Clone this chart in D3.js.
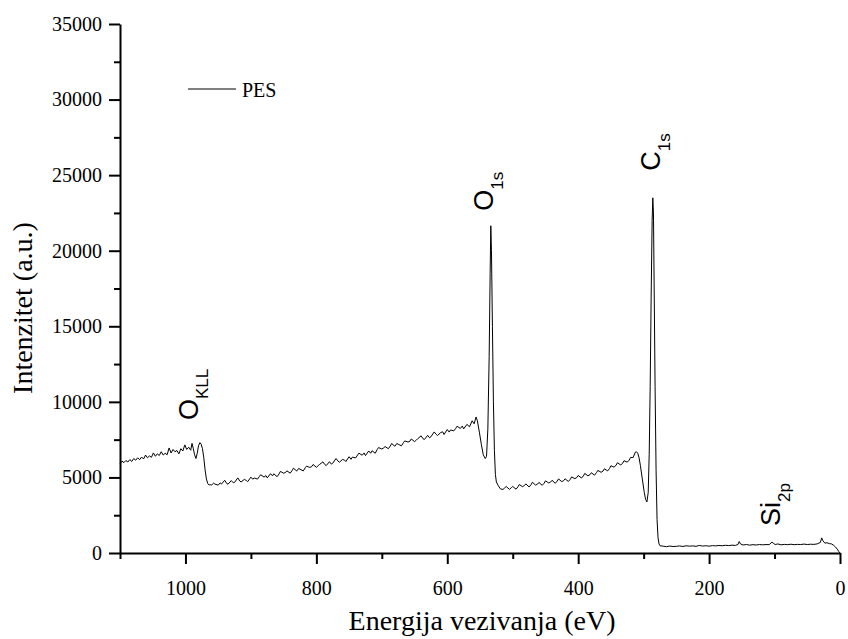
<!DOCTYPE html>
<html>
<head>
  <meta charset="UTF-8">
  <title>PES spectar</title>
  <style type="text/css">
    body { margin: 0; background: #fff; }
    .axis path, .axis line { stroke: #000; stroke-width: 2px; }
    .spectrum { fill: none; stroke: #000; stroke-width: 1px; }
    .serif { font-family: "Times New Roman", Times, "Liberation Serif", "DejaVu Serif", serif; fill: #000; }
    .peak { font-family: "Liberation Sans", Arial, sans-serif; font-size: 27px; fill: #000; }
  </style>
</head>
<body>
  <div class="svg-zone"></div>
  <script src="https://cdn.jsdelivr.net/npm/d3@7"></script>
  <script type="text/javascript">
    // binding energy (eV), intensity (a.u.)
    var highEnergy = [
      [1100, 5900], [1097, 6080], [1094, 5980], [1091, 6120], [1088, 6020], [1085, 6180],
      [1082, 6060], [1079, 6250], [1076, 6140], [1073, 6300], [1070, 6170], [1067, 6350],
      [1064, 6220], [1061, 6480], [1058, 6300], [1055, 6420], [1052, 6330], [1049, 6620],
      [1046, 6400], [1043, 6560], [1040, 6450], [1037, 6700], [1034, 6480], [1031, 6600],
      [1028, 6500], [1025, 6950], [1022, 6620], [1019, 6850], [1016, 6700], [1013, 6780],
      [1010, 6560], [1007, 6900], [1004, 6750], [1001, 7150], [998, 6850], [995, 7000],
      [992, 6800], [990, 7250], [988, 6900], [986, 6500], [984, 6250], [982, 6600],
      [980, 7100], [978, 7300], [976, 7200], [974, 6900], [972, 6300], [970, 5500],
      [968, 4900], [966, 4600], [964, 4500], [962, 4520]
    ];
    var midEnergy = [
      [960, 4500], [957, 4620], [955, 4560], [950, 4490], [947, 4640], [945, 4560], [940, 4810], [937, 4600], [935, 4550],
      [930, 4790], [927, 4650], [925, 4670], [920, 4970], [917, 4760], [915, 4700], [910, 4870], [907, 4800], [905, 4720],
      [900, 5020], [897, 4880], [895, 4970], [890, 4890], [887, 5060], [885, 5180], [880, 5020], [877, 5120], [875, 4970],
      [870, 5250], [867, 5100], [865, 5240], [860, 5050], [857, 5230], [855, 5400], [850, 5280], [847, 5330], [845, 5435],
      [840, 5280], [837, 5460], [835, 5615], [830, 5420], [827, 5600], [825, 5545], [820, 5430], [817, 5640], [815, 5745],
      [810, 5660], [807, 5720], [805, 5855], [800, 5670], [797, 5790], [795, 5860], [790, 6030], [787, 5850], [785, 5780],
      [780, 6040], [777, 5880], [775, 5940], [770, 6250], [767, 6090], [765, 6000], [760, 6190], [757, 6150], [755, 6050],
      [750, 6370], [747, 6200], [745, 6345], [740, 6290], [737, 6480], [735, 6605], [730, 6470], [727, 6620], [725, 6445],
      [720, 6750], [717, 6600], [715, 6765], [710, 6600], [707, 6850], [705, 6975], [700, 6880], [697, 6960], [695, 7045],
      [690, 6900], [687, 7080], [685, 7245], [680, 7060], [677, 7250], [675, 7195], [670, 7090], [667, 7300], [665, 7415],
      [660, 7340], [657, 7400], [655, 7545], [650, 7370], [647, 7480], [645, 7570], [640, 7750], [637, 7560], [635, 7510],
      [630, 7780], [627, 7620], [625, 7690], [620, 8010], [617, 7850], [615, 7770], [610, 7970], [607, 8020], [605, 7840],
      [600, 8170], [597, 8000], [595, 8140], [590, 8080], [587, 8250], [585, 8390], [580, 8240], [577, 8400], [575, 8210],
      [570, 8510], [566, 8350], [562, 8750], [559, 8550], [556, 9000], [554, 8750]
    ];
    var o1sPeak = [
      [551, 8000], [548, 7200], [545, 6500], [542, 6250], [540, 6400], [538, 8200],
      [536, 13000], [534.5, 18500], [533.5, 21650], [532.5, 20000], [531, 15000],
      [529.5, 10000], [528, 6800], [526.5, 5200], [525, 4700], [522, 4450], [519, 4250]
    ];
    var lowEnergy = [
      [515, 4200], [512, 4320], [510, 4400], [505, 4210], [502, 4330], [500, 4400], [495, 4220], [492, 4380], [490, 4530],
      [485, 4390], [482, 4470], [480, 4570], [475, 4370], [472, 4520], [470, 4680], [465, 4490], [462, 4560], [460, 4670],
      [455, 4480], [452, 4620], [450, 4775], [445, 4630], [442, 4700], [440, 4810], [435, 4610], [432, 4760], [430, 4900],
      [425, 4720], [422, 4800], [420, 4910], [415, 4730], [412, 4880], [410, 5030], [405, 4920], [402, 5000], [400, 5130],
      [395, 4960], [392, 5100], [390, 5265], [385, 5110], [382, 5180], [380, 5310], [375, 5150], [372, 5320], [370, 5465],
      [365, 5340], [362, 5420], [360, 5575], [355, 5430], [352, 5600], [350, 5770], [345, 5680], [342, 5820], [340, 5975],
      [335, 5820], [332, 5950], [330, 6105], [325, 6010], [322, 6150], [320, 6320], [316, 6320], [313, 6650]
    ];
    var c1sPeak = [
      [311, 6700], [309, 6600], [307, 6300], [305, 5800], [302, 4900], [299, 4000],
      [297, 3550], [295, 3380], [293, 4000], [291.5, 6500], [290, 11000], [288.5, 17000],
      [287, 22000], [286, 23500], [285, 22500], [284, 18000], [282.5, 11000], [281, 5500],
      [279.5, 2200], [278, 1000], [276.5, 600], [275, 480]
    ];
    var tailEnergy = [
      [270, 450], [265, 420], [260, 460], [255, 430], [250, 440], [245, 470], [240, 430],
      [235, 480], [230, 450], [225, 470], [220, 440], [215, 500], [210, 460], [205, 480],
      [200, 450], [195, 490], [190, 470], [185, 500], [180, 480], [175, 510], [170, 490],
      [165, 520], [160, 500], [156, 560], [154, 760], [152, 600], [148, 530], [143, 560],
      [138, 520], [133, 550], [128, 530], [123, 560], [118, 540], [113, 560], [108, 550],
      [104, 720], [102, 650], [99, 560], [95, 600], [90, 540], [85, 570], [80, 550],
      [75, 580], [70, 550], [65, 570], [60, 560], [55, 590], [50, 560], [45, 580],
      [40, 570], [35, 600], [30, 700], [28, 1000], [26, 800], [23, 650], [20, 680],
      [16, 620], [13, 600], [10, 520], [7, 400], [4, 250], [2, 100], [0, 0]
    ];
    var spectrum = [].concat(highEnergy, midEnergy, o1sPeak, lowEnergy, c1sPeak, tailEnergy);

    var xMajor = [1000, 800, 600, 400, 200, 0],
      xMinor = [1100, 900, 700, 500, 300, 100],
      yMajor = [0, 5000, 10000, 15000, 20000, 25000, 30000, 35000],
      yMinor = [2500, 7500, 12500, 17500, 22500, 27500, 32500];

    // peak labels: element, subscript, label anchor (eV, intensity)
    var peakLabels = [
      { main: "O", sub: "KLL", e: 981, v: 8800 },
      { main: "O", sub: "1s", e: 530, v: 22640 },
      { main: "C", sub: "1s", e: 275, v: 25290 },
      { main: "Si", sub: "2p", e: 92, v: 1790 }
    ];

    var width = 848,
      height = 639,
      margin = { top: 24, right: 8, bottom: 86, left: 120 };

    var x = d3.scaleLinear()
      .domain([1100, 0])
      .range([margin.left, width - margin.right]);
    var y = d3.scaleLinear()
      .domain([0, 35000])
      .range([height - margin.bottom, margin.top]);

    var svg = d3.select(".svg-zone").append("svg")
      .attr("width", width)
      .attr("height", height);

    var line = d3.line()
      .x(function (d) { return x(d[0]); })
      .y(function (d) { return y(d[1]); });

    svg.append("path")
      .datum(spectrum)
      .attr("class", "spectrum")
      .attr("d", line);

    function styleAxis(g) {
      g.attr("font-family", null)
        .attr("font-size", null)
        .attr("class", "axis serif")
        .style("font-size", "20px")
        .selectAll("text").attr("fill", "#000");
    }

    // minor ticks first, majors (with labels) on top
    svg.append("g")
      .attr("class", "axis")
      .attr("transform", "translate(0," + y(0) + ")")
      .call(d3.axisBottom(x).tickValues(xMinor).tickSize(6).tickFormat(""))
      .select(".domain").remove();
    svg.append("g")
      .attr("class", "axis")
      .attr("transform", "translate(0," + y(0) + ")")
      .call(d3.axisBottom(x).tickValues(xMajor).tickSize(11).tickSizeOuter(0).tickPadding(17).tickFormat(d3.format("d")))
      .call(styleAxis);

    svg.append("g")
      .attr("class", "axis")
      .attr("transform", "translate(" + x(1100) + ",0)")
      .call(d3.axisLeft(y).tickValues(yMinor).tickSize(6).tickFormat(""))
      .select(".domain").remove();
    svg.append("g")
      .attr("class", "axis")
      .attr("transform", "translate(" + x(1100) + ",0)")
      .call(d3.axisLeft(y).tickValues(yMajor).tickSize(11).tickSizeOuter(0).tickPadding(7).tickFormat(d3.format("d")))
      .call(styleAxis);

    svg.append("text")
      .attr("class", "serif")
      .attr("x", (x.range()[0] + x.range()[1]) / 2 + 2)
      .attr("y", 630)
      .attr("text-anchor", "middle")
      .style("font-size", "28px")
      .text("Energija vezivanja (eV)");

    svg.append("text")
      .attr("class", "serif")
      .attr("transform", "translate(32,308) rotate(-90)")
      .attr("text-anchor", "middle")
      .style("font-size", "28px")
      .text("Intenzitet (a.u.)");

    // legend
    svg.append("line")
      .attr("x1", 188).attr("x2", 236)
      .attr("y1", 89).attr("y2", 89)
      .attr("stroke", "#000").attr("stroke-width", 1);
    svg.append("text")
      .attr("class", "serif")
      .attr("x", 242).attr("y", 97)
      .style("font-size", "20px")
      .text("PES");

    var lbl = svg.selectAll(".peak")
      .data(peakLabels)
      .enter().append("text")
      .attr("class", "peak")
      .attr("transform", function (d) {
        return "translate(" + x(d.e) + "," + y(d.v) + ") rotate(-90)";
      });
    lbl.append("tspan").text(function (d) { return d.main; });
    lbl.append("tspan")
      .attr("dy", 10)
      .style("font-size", "17px")
      .text(function (d) { return d.sub; });
  </script>
</body>
</html>
